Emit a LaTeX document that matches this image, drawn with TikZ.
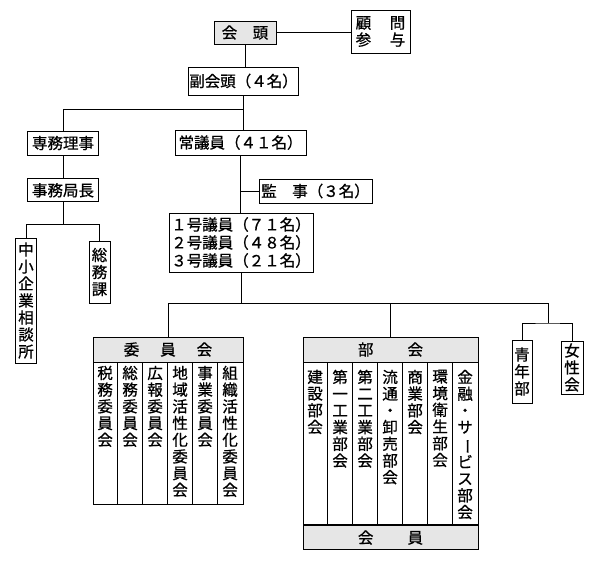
\documentclass[tikz,border=0pt]{standalone}
\usepackage{fontspec}
\setmainfont{Noto Sans CJK JP}[FakeBold=0.8]
\usetikzlibrary{positioning}
\definecolor{headgray}{RGB}{230,230,230}

\begin{document}
\begin{tikzpicture}[x=1pt, y=-1pt, line width=0.8pt,
	box/.style={draw, inner sep=0pt, font=\fontsize{15.5}{17}\selectfont},
	head/.style={box, fill=headgray},
	tate/.style={box, align=center, minimum width=21},
	col/.style={anchor=north, inner sep=0pt, align=center, font=\fontsize{15.5}{16.7}\selectfont}]
	\useasboundingbox (0,0) rectangle (600,560);

	% top
	\node [head, minimum width=62, minimum height=23] (kaitou) at (245,32.5) {会　頭};
	\node [box, align=left, minimum width=59, minimum height=43] (komon) at (380.5,31.5) {顧\hspace{1.2em}問\\参\hspace{1.2em}与};
	\node [box, minimum width=110, minimum height=28] (fukukaitou) at (243.5,81) {副会頭（４名）};

	\node [box, minimum width=71, minimum height=24] (senmu) at (63,143) {専務理事};
	\node [box, minimum width=71, minimum height=23, below=23pt of senmu] (jimukyoku) {事務局長};
	\node [box, minimum width=131, minimum height=25] (jougiin) at (240.5,142.5) {常議員（４１名）};
	\node [box, minimum width=113, minimum height=24] (kanji) at (315.5,191) {監　事（３名）};
	\node [box, align=left, minimum width=144, minimum height=59, font=\fontsize{15.5}{18}\selectfont] (giin) at (241,242.5) {１号議員（７１名）\\２号議員（４８名）\\３号議員（２１名）};

	\node [tate, minimum height=125] (chusho) at (26,300.5) {中\\小\\企\\業\\相\\談\\所};
	\node [tate, minimum height=62] (soumuka) at (99.5,272) {総\\務\\課};
	\node [tate, minimum width=20, minimum height=63] (seinen) at (522,371.5) {青\\年\\部};
	\node [tate, minimum width=22, minimum height=53] (josei) at (572,367.5) {女\\性\\会};

	% 委員会
	\node [head, minimum width=150, minimum height=25] (iinkai) at (168,349.5) {委\hspace{1.35em}員\hspace{1.35em}会};
	\node [box, minimum width=150, minimum height=142, below=0pt of iinkai] (iinkaibody) {};
	\foreach \i in {1,...,5}
		\draw ([xshift=25*\i]iinkaibody.north west) -- ([xshift=25*\i]iinkaibody.south west);
	\foreach \t [count=\i] in {{税\\務\\委\\員\\会}, {総\\務\\委\\員\\会}, {広\\報\\委\\員\\会},
			{地\\域\\活\\性\\化\\委\\員\\会}, {事\\業\\委\\員\\会}, {組\\織\\活\\性\\化\\委\\員\\会}}
		\node [col] (iin\i) at ([xshift=25*\i-12.5, yshift=-3]iinkaibody.north west) {\t};

	% 部会
	\node [head, minimum width=175, minimum height=25] (bukai) at (390.5,349.5) {部\hspace{2.2em}会};
	\node [box, minimum width=175, minimum height=162, below=0pt of bukai] (bukaibody) {};
	\node [head, minimum width=175, minimum height=24, below=0pt of bukaibody] (kaiin) {会\hspace{2.2em}員};
	\foreach \i in {1,...,6}
		\draw ([xshift=25*\i]bukaibody.north west) -- ([xshift=25*\i]bukaibody.south west);
	\foreach \t [count=\i] in {{建\\設\\部\\会}, {第\\一\\工\\業\\部\\会}, {第\\二\\工\\業\\部\\会},
			{流\\通\\・\\卸\\売\\部\\会}, {商\\業\\部\\会}, {環\\境\\衛\\生\\部\\会},
			{金\\融\\・\\サ\\\rotatebox[origin=c]{-90}{ー}\\ビ\\ス\\部\\会}}
		\node [col] (bu\i) at ([xshift=25*\i-12.5, yshift=-7]bukaibody.north west) {\t};

	% connectors
	\draw (kaitou.east) -- (kaitou.east -| komon.west);
	\draw (kaitou.south) -- (kaitou.south |- fukukaitou.north);
	\draw (fukukaitou.south) -- ++(0,14) coordinate (fk);
	\draw (senmu.north) |- (fk) -- (fk |- jougiin.north);
	\draw (senmu.south) -- (jimukyoku.north);
	\draw (jimukyoku.south) -- ++(0,22) coordinate (jm);
	\draw (chusho.north) |- (jm) -| (soumuka.north);
	\draw (jougiin.south) -- (jougiin.south |- giin.north);
	\draw (kanji.west) -- (kanji.west -| jougiin.south);
	\draw (giin.south) -- ++(0,31) coordinate (gi);
	\coordinate (sj) at (548,323);
	\draw (iinkai.north) |- (gi) -| (sj);
	\draw (gi -| bukai.north) -- (bukai.north);
	\draw (seinen.north) |- (sj) -| (josei.north);
\end{tikzpicture}
\end{document}
